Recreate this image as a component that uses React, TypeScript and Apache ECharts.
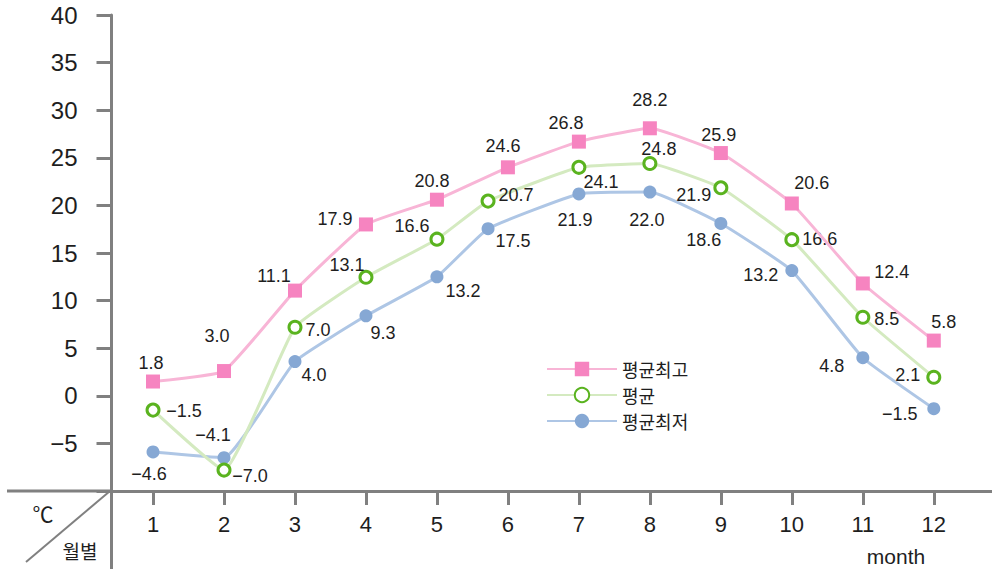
import React, { useEffect, useRef } from "react";
import * as echarts from "echarts";

// Months (category positions on the x axis)
const months = [1, 2, 3, 4, 5, 6, 7, 8, 9, 10, 11, 12];
// x positions of the 평균 / 평균최저 points (month 6 is drawn left of its tick in the original)
const avgLowX = [1, 2, 3, 4, 5, 5.72, 7, 8, 9, 10, 11, 12];

// Plotted values
const highVals = [1.5, 2.6, 11.05, 18.0, 20.6, 24.0, 26.7, 28.1, 25.5, 20.2, 11.8, 5.8];
const avgVals = [-1.5, -7.8, 7.2, 12.45, 16.45, 20.45, 24.0, 24.4, 21.85, 16.4, 8.25, 1.95];
const lowVals = [-5.9, -6.5, 3.6, 8.4, 12.5, 17.55, 21.2, 21.4, 18.1, 13.15, 4.0, -1.35];

// Printed value labels
const highLabels = ["1.8", "3.0", "11.1", "17.9", "20.8", "24.6", "26.8", "28.2", "25.9", "20.6", "12.4", "5.8"];
const avgLabels = ["-1.5", "-7.0", "7.0", "13.1", "16.6", "20.7", "24.1", "24.8", "21.9", "16.6", "8.5", "2.1"];
const lowLabels = ["-4.6", "-4.1", "4.0", "9.3", "13.2", "17.5", "21.9", "22.0", "18.6", "13.2", "4.8", "-1.5"];

// Y axis ticks
const yMin = -10;
const yMax = 40;
const yStep = 5;

const seriesNames = ["평균최고", "평균", "평균최저"];

// Label placement (offset of label centre from its marker)
const highOffsets = [[-2, -19], [-7, -35], [-21, -15], [-31, -5], [-5, -19], [-5, -21], [-13, -19], [0, -28], [-2, -18], [20, -20], [29, -11], [10, -19]];
const avgOffsets = [[31, 1], [26, 6], [23, 3], [-19, -12], [-25, -13], [28, -6], [22, 15], [9, -15], [-27, 7], [28, -1], [24, 2], [-26, -2]];
const lowOffsets = [[-4, 22], [-11, -23], [19, 13], [17, 17], [26, 14], [25, 12], [-4, 26], [-3, 28], [-17, 17], [-31, 4], [-31, 8], [-34, 5]];

const AXIS = "#808080";
const TXT = "#1e1e1e";
const NUMFONT = "'Liberation Sans', Arial, sans-serif";
const KRFONT = "'Noto Sans CJK KR', sans-serif";

const fmt = (s: string) => s.replace("-", "\u2212");

function build(xs: number[], ys: number[], labels: string[], offs: number[][]) {
  return ys.map((y, i) => ({
    value: [xs[i], y],
    label: { formatter: fmt(labels[i]), offset: offs[i] },
  }));
}

export default function App() {
  const ref = useRef<HTMLDivElement>(null);
  useEffect(() => {
    if (!ref.current) return;
    const chart = echarts.init(ref.current, undefined, { renderer: "svg" });
    const labelBase = {
      show: true,
      position: "inside",
      align: "center",
      verticalAlign: "middle",
      fontSize: 18,
      color: TXT,
      fontFamily: NUMFONT,
    };
    chart.setOption({
      animation: false,
      backgroundColor: "#ffffff",
      grid: { left: 111.5, right: 0, top: 15, bottom: 78, containLabel: false },
      legend: {
        orient: "vertical",
        left: 541,
        top: 355,
        itemWidth: 70,
        itemHeight: 18,
        itemGap: 8,
        data: seriesNames,
        textStyle: { fontSize: 18, color: TXT, fontFamily: KRFONT },
      },
      xAxis: {
        type: "value",
        min: 0.415,
        max: 12.82,
        splitLine: { show: false },
        axisLine: { show: true, onZero: false, lineStyle: { color: AXIS, width: 3 } },
        axisTick: { show: true, length: 14, customValues: months, lineStyle: { color: AXIS, width: 3 } },
        axisLabel: {
          customValues: months,
          margin: 22,
          fontSize: 22,
          color: TXT,
          fontFamily: NUMFONT,
          formatter: (v: number) => String(Math.round(v)),
        },
      },
      yAxis: {
        type: "value",
        min: yMin,
        max: yMax,
        interval: yStep,
        splitLine: { show: false },
        axisLine: { show: true, onZero: false, lineStyle: { color: AXIS, width: 3 } },
        axisTick: { show: true, length: 15, lineStyle: { color: AXIS, width: 3 } },
        axisLabel: {
          margin: 34,
          fontSize: 24,
          color: TXT,
          fontFamily: NUMFONT,
          formatter: (v: number) => (v === yMin ? "" : fmt(String(v))),
        },
      },
      series: [
        {
          name: seriesNames[2],
          type: "line",
          smooth: 0.12,
          symbol: "circle",
          symbolSize: 13,
          z: 2,
          lineStyle: { color: "#aec6e5", width: 3 },
          itemStyle: { color: "#86a8d4" },
          label: labelBase,
          data: build(avgLowX, lowVals, lowLabels, lowOffsets),
        },
        {
          name: seriesNames[1],
          type: "line",
          smooth: 0.12,
          symbol: "circle",
          symbolSize: 12,
          z: 3,
          lineStyle: { color: "#d4eac0", width: 3 },
          itemStyle: { color: "#ffffff", borderColor: "#5ab31f", borderWidth: 3 },
          label: labelBase,
          data: build(avgLowX, avgVals, avgLabels, avgOffsets),
        },
        {
          name: seriesNames[0],
          type: "line",
          smooth: 0.12,
          symbol: "rect",
          symbolSize: 14,
          z: 4,
          lineStyle: { color: "#f8b5d6", width: 3 },
          itemStyle: { color: "#f684c0" },
          label: labelBase,
          data: build(months, highVals, highLabels, highOffsets),
        },
      ],
      graphic: [
        { type: "line", shape: { x1: 7, y1: 491, x2: 112, y2: 491 }, style: { stroke: AXIS, lineWidth: 3 } },
        { type: "line", shape: { x1: 111.5, y1: 491, x2: 111.5, y2: 569 }, style: { stroke: AXIS, lineWidth: 3 } },
        { type: "line", shape: { x1: 110, y1: 491, x2: 26, y2: 562 }, style: { stroke: AXIS, lineWidth: 2 } },
        {
          type: "text",
          x: 43,
          y: 513,
          style: { text: "\u2103", fontSize: 21, fill: TXT, fontFamily: KRFONT, align: "center", verticalAlign: "middle" },
        },
        {
          type: "text",
          x: 80,
          y: 550,
          style: { text: "월별", fontSize: 19, fill: TXT, fontFamily: KRFONT, align: "center", verticalAlign: "middle" },
        },
        {
          type: "text",
          x: 896,
          y: 556,
          style: { text: "month", fontSize: 21, fill: TXT, fontFamily: NUMFONT, align: "center", verticalAlign: "middle" },
        },
      ],
    });
    return () => chart.dispose();
  }, []);
  return (
    <div
      ref={ref}
      style={{ position: "fixed", left: 0, top: 0, width: 992, height: 569, background: "#fff" }}
    />
  );
}
